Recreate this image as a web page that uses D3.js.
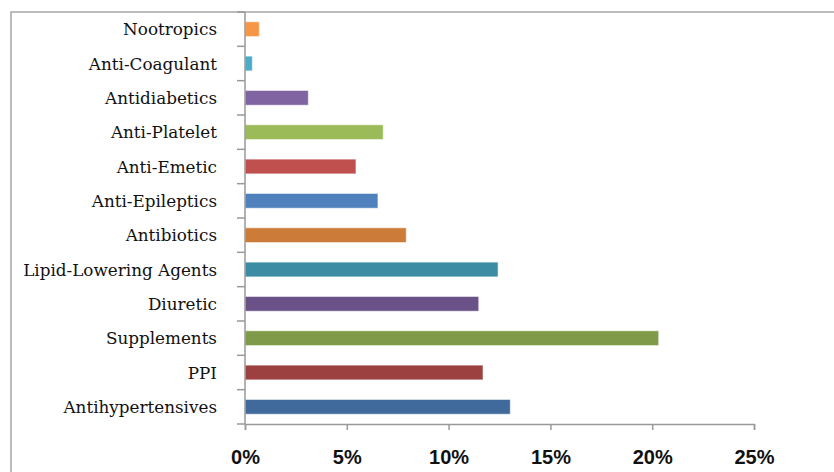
<!DOCTYPE html>
<html>
<head>
<meta charset="utf-8">
<script src="https://cdn.jsdelivr.net/npm/d3@7"></script>
<style>
  html, body { margin: 0; padding: 0; background: #fff; }
  svg { display: block; }
</style>
</head>
<body>
<svg id="chart" width="834" height="472"></svg>
<script>
// Drug classes, listed bottom to top as they are stacked on the axis
const categories = [
  "Antihypertensives", "PPI", "Supplements", "Diuretic",
  "Lipid-Lowering Agents", "Antibiotics", "Anti-Epileptics", "Anti-Emetic",
  "Anti-Platelet", "Antidiabetics", "Anti-Coagulant", "Nootropics"
];
// Share of prescriptions per class (fraction)
const shares = [
  0.1303, 0.1169, 0.2032, 0.1148,
  0.1243, 0.0792, 0.0653, 0.0545,
  0.0679, 0.0311, 0.0036, 0.0070
];
const barColors = [
  "#416A9C", "#9C413F", "#7F9A48", "#6A5289",
  "#3C8CA3", "#CC7B38", "#4F81BD", "#C0504D",
  "#9BBB59", "#8064A2", "#4BACC6", "#F79646"
];
const tickValues = [0, 0.05, 0.10, 0.15, 0.20, 0.25];

const rows = categories.map((c, i) => ({ name: c, value: shares[i], color: barColors[i] }));

const svg = d3.select("#chart");
const plotLeft = 245, plotRight = 754, plotTop = 12, plotBottom = 424;

// chart frame
svg.append("rect")
  .attr("x", 11).attr("y", 12)
  .attr("width", 900).attr("height", 600)
  .attr("fill", "none")
  .attr("stroke", "#a6a6a6")
  .attr("stroke-width", 1.5);

const x = d3.scaleLinear().domain([0, 0.25]).range([plotLeft, plotRight]);
const y = d3.scaleBand()
  .domain(categories.slice().reverse())
  .range([plotTop, plotBottom])
  .paddingInner(0.57)
  .paddingOuter(0.285);

// bars
svg.append("g").selectAll("rect")
  .data(rows)
  .join("rect")
  .attr("x", x(0))
  .attr("y", d => y(d.name))
  .attr("width", d => x(d.value) - x(0))
  .attr("height", y.bandwidth())
  .attr("fill", d => d.color)
  .attr("stroke", "rgba(255,255,255,0.55)")
  .attr("stroke-width", 1);

// category axis: line, ticks at band edges, labels
const catAxis = svg.append("g");
catAxis.append("line")
  .attr("x1", plotLeft).attr("x2", plotLeft)
  .attr("y1", plotTop).attr("y2", plotBottom)
  .attr("stroke", "#999").attr("stroke-width", 1.5);
const step = (plotBottom - plotTop) / categories.length;
catAxis.selectAll("line.tick")
  .data(d3.range(categories.length + 1))
  .join("line")
  .attr("class", "tick")
  .attr("x1", plotLeft - 8).attr("x2", plotLeft)
  .attr("y1", i => plotTop + i * step).attr("y2", i => plotTop + i * step)
  .attr("stroke", "#999").attr("stroke-width", 1.5);
catAxis.selectAll("text")
  .data(rows)
  .join("text")
  .attr("x", 217)
  .attr("y", d => y(d.name) + y.bandwidth() / 2)
  .attr("dy", "0.36em")
  .attr("text-anchor", "end")
  .attr("font-family", "'DejaVu Serif', serif")
  .attr("font-size", 16.8)
  .attr("fill", "#111")
  .text(d => d.name);

// value axis
const valAxis = svg.append("g")
  .attr("transform", `translate(0,${plotBottom})`)
  .call(d3.axisBottom(x).tickValues(tickValues).tickFormat(d3.format(".0%")).tickSize(6).tickPadding(0));
valAxis.select(".domain").attr("stroke", "#999").attr("stroke-width", 1.5);
valAxis.selectAll(".tick line").attr("stroke", "#999").attr("stroke-width", 1.5);
valAxis.selectAll(".tick text")
  .attr("y", 40)
  .attr("dy", 0)
  .attr("font-family", "'Liberation Sans', sans-serif")
  .attr("font-weight", "bold")
  .attr("font-size", 20)
  .attr("fill", "#111");
</script>
</body>
</html>
